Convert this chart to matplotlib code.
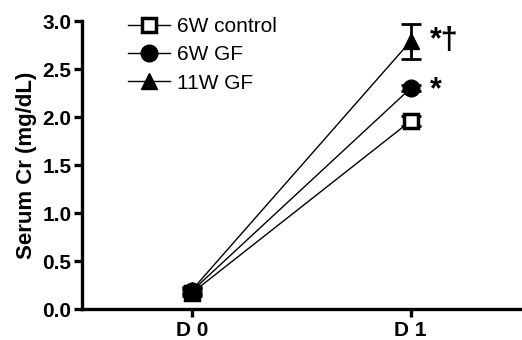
import matplotlib
matplotlib.use("Agg")
import matplotlib.pyplot as plt

plt.rcParams['font.family'] = ['Liberation Sans', 'DejaVu Sans']

dias = ["D 0", "D 1"]
grupos = ["6W control", "6W GF", "11W GF"]
medias = {
    "6W control": [0.17, 1.96],
    "6W GF": [0.19, 2.30],
    "11W GF": [0.20, 2.79],
}
errores = {
    "6W control": [0.03, 0.05],
    "6W GF": [0.03, 0.03],
    "11W GF": [0.03, 0.18],
}
estilos = {
    "6W control": dict(marker="s", mfc="white", ms=10, mew=2.5),
    "6W GF": dict(marker="o", mfc="black", ms=12),
    "11W GF": dict(marker="^", mfc="black", ms=12),
}

fig = plt.figure(figsize=(5.22, 3.4), dpi=100)
ax = fig.add_axes([0.158, 0.09, 0.838, 0.848])

x = range(len(dias))
for g in grupos:
    ax.errorbar(x, medias[g], yerr=errores[g], color="black", lw=1,
                elinewidth=2, capsize=7, capthick=2, fmt="none")
    ax.plot(x, medias[g], color="black", lw=1, mec="black", label=g,
            **estilos[g])

ax.text(1.09, medias["11W GF"][1], "*†", fontsize=22, fontweight="bold",
        va="center", ha="left")
ax.text(1.09, medias["6W GF"][1] - 0.02, "*", fontsize=22, fontweight="bold",
        va="center", ha="left")

ax.set_xlim(-0.5, 1.5)
ax.set_ylim(0, 3.0)
ax.set_yticks([0.0, 0.5, 1.0, 1.5, 2.0, 2.5, 3.0])
ax.set_yticklabels(["0.0", "0.5", "1.0", "1.5", "2.0", "2.5", "3.0"])
ax.set_xticks(list(x))
ax.set_xticklabels(dias)
ax.set_ylabel("Serum Cr (mg/dL)", fontsize=16, fontweight="bold", labelpad=4)

for s in ["top", "right"]:
    ax.spines[s].set_visible(False)
for s in ["left", "bottom"]:
    ax.spines[s].set_linewidth(2.4)
ax.tick_params(width=2.4, length=6, labelsize=15, pad=2)
for t in ax.get_xticklabels() + ax.get_yticklabels():
    t.set_fontweight("bold")

leg = fig.legend(loc="upper left", bbox_to_anchor=(0.245, 0.95), frameon=False,
                 fontsize=15, handlelength=2.0, handletextpad=0.35,
                 labelspacing=0.45, borderpad=0, borderaxespad=0)

fig.savefig("out.png", dpi=100)
